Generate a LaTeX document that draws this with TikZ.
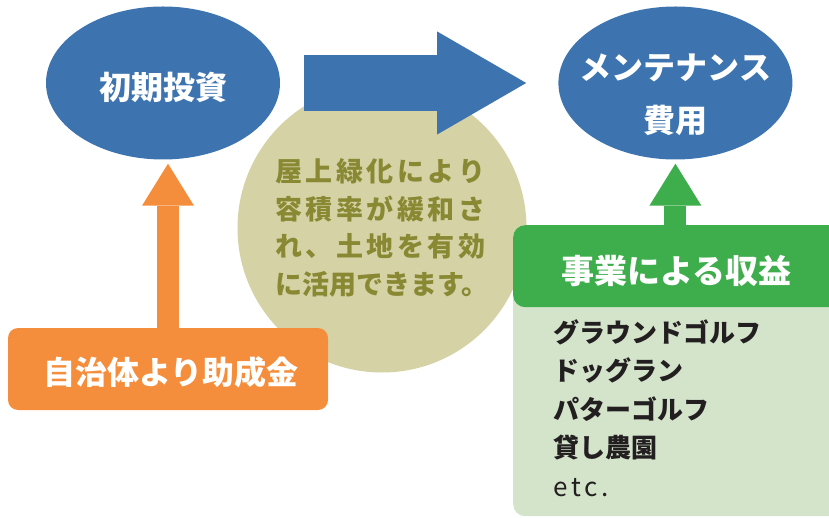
\documentclass[tikz,border=0pt]{standalone}
\usepackage{fontspec}
\newfontfamily\jp{Noto Sans CJK JP}
\usetikzlibrary{positioning,shapes.geometric,arrows.meta,calc}

\definecolor{ovalblue}{RGB}{61,116,175}
\definecolor{meritbg}{RGB}{213,210,165}
\definecolor{merittext}{RGB}{137,137,52}
\definecolor{grantorange}{RGB}{245,142,60}
\definecolor{revgreen}{RGB}{62,173,76}
\definecolor{listbg}{RGB}{211,228,203}
\definecolor{listtext}{RGB}{35,31,32}

\newcommand\jsp{\hspace{3.5pt}}

\begin{document}
\begin{tikzpicture}[x=1pt, y=-1pt,
  every node/.style={font=\jp\bfseries},
  oval/.style={ellipse, fill=ovalblue, minimum width=234pt, minimum height=153pt, inner sep=0pt, text=white},
  card/.style={rectangle, rounded corners=10pt, inner sep=0pt, text=white},
  uparrow/.style={line width=22pt, -{Triangle[width=52pt, length=42pt, line width=0pt]}}]
  \clip (0,0) rectangle (829,518);
  \node[circle, fill=meritbg, minimum size=289pt, text=merittext, align=left,
        font=\jp\bfseries\fontsize{27}{37.5}\selectfont] (merit) at (382,228)
        {屋\jsp 上\jsp 緑\jsp 化\jsp に\jsp よ\jsp り\\
         容\jsp 積\jsp 率\jsp が\jsp 緩\jsp 和\jsp さ\\
         れ\jsp 、\jsp 土\jsp 地\jsp を\jsp 有\jsp 効\\
         に活用できます。};
  \node[oval, label={[text=white, yshift=-4pt, font=\jp\bfseries\fontsize{32}{38}\selectfont]center:初期投資}] (invest) at (163,83) {};
  \node[oval, right=278pt of invest,
        label={[text=white, align=center, yshift=-12pt, font=\jp\bfseries\fontsize{32}{53}\selectfont]center:{メンテナンス\\費用}}] (maint) {};
  \draw[ovalblue, line width=56pt, -{Triangle[width=103pt, length=89pt, line width=0pt]},
        shorten <=24pt, shorten >=32pt] (invest.east) -- (maint.west);
  \node[card, fill=grantorange, minimum width=320pt, minimum height=82pt,
        label={[text=white, xshift=3pt, yshift=-3pt, font=\jp\bfseries\fontsize{32}{36}\selectfont]center:自治体より助成金}] (grant) at (168,369) {};
  \draw[uparrow, grantorange] (grant.north) -- ($(grant.north |- invest.south)+(0,4)$);
  \node[card, fill=listbg, anchor=north west, minimum width=332pt, minimum height=291pt,
        rounded corners=12pt] (activities) at (513,225) {};
  \node[card, fill=revgreen, anchor=north west, minimum width=332pt, minimum height=82pt, rounded corners=12pt,
        label={[text=white, xshift=-3pt, yshift=-5pt, font=\jp\bfseries\fontsize{33}{36}\selectfont]center:事業による収益}] (revenue) at (513,225) {};
  \draw[uparrow, revgreen] (maint.south |- revenue.north) -- ($(maint.south)+(0,4)$);
  \node[anchor=north west, align=left, text=listtext, inner sep=0pt,
        font=\jp\bfseries\fontsize{26}{38.5}\selectfont] (items) at (553,319)
        {グラウンドゴルフ\\ドッグラン\\パターゴルフ\\貸し農園\\{\mdseries\addfontfeature{LetterSpace=15}etc.}};
\end{tikzpicture}
\end{document}
